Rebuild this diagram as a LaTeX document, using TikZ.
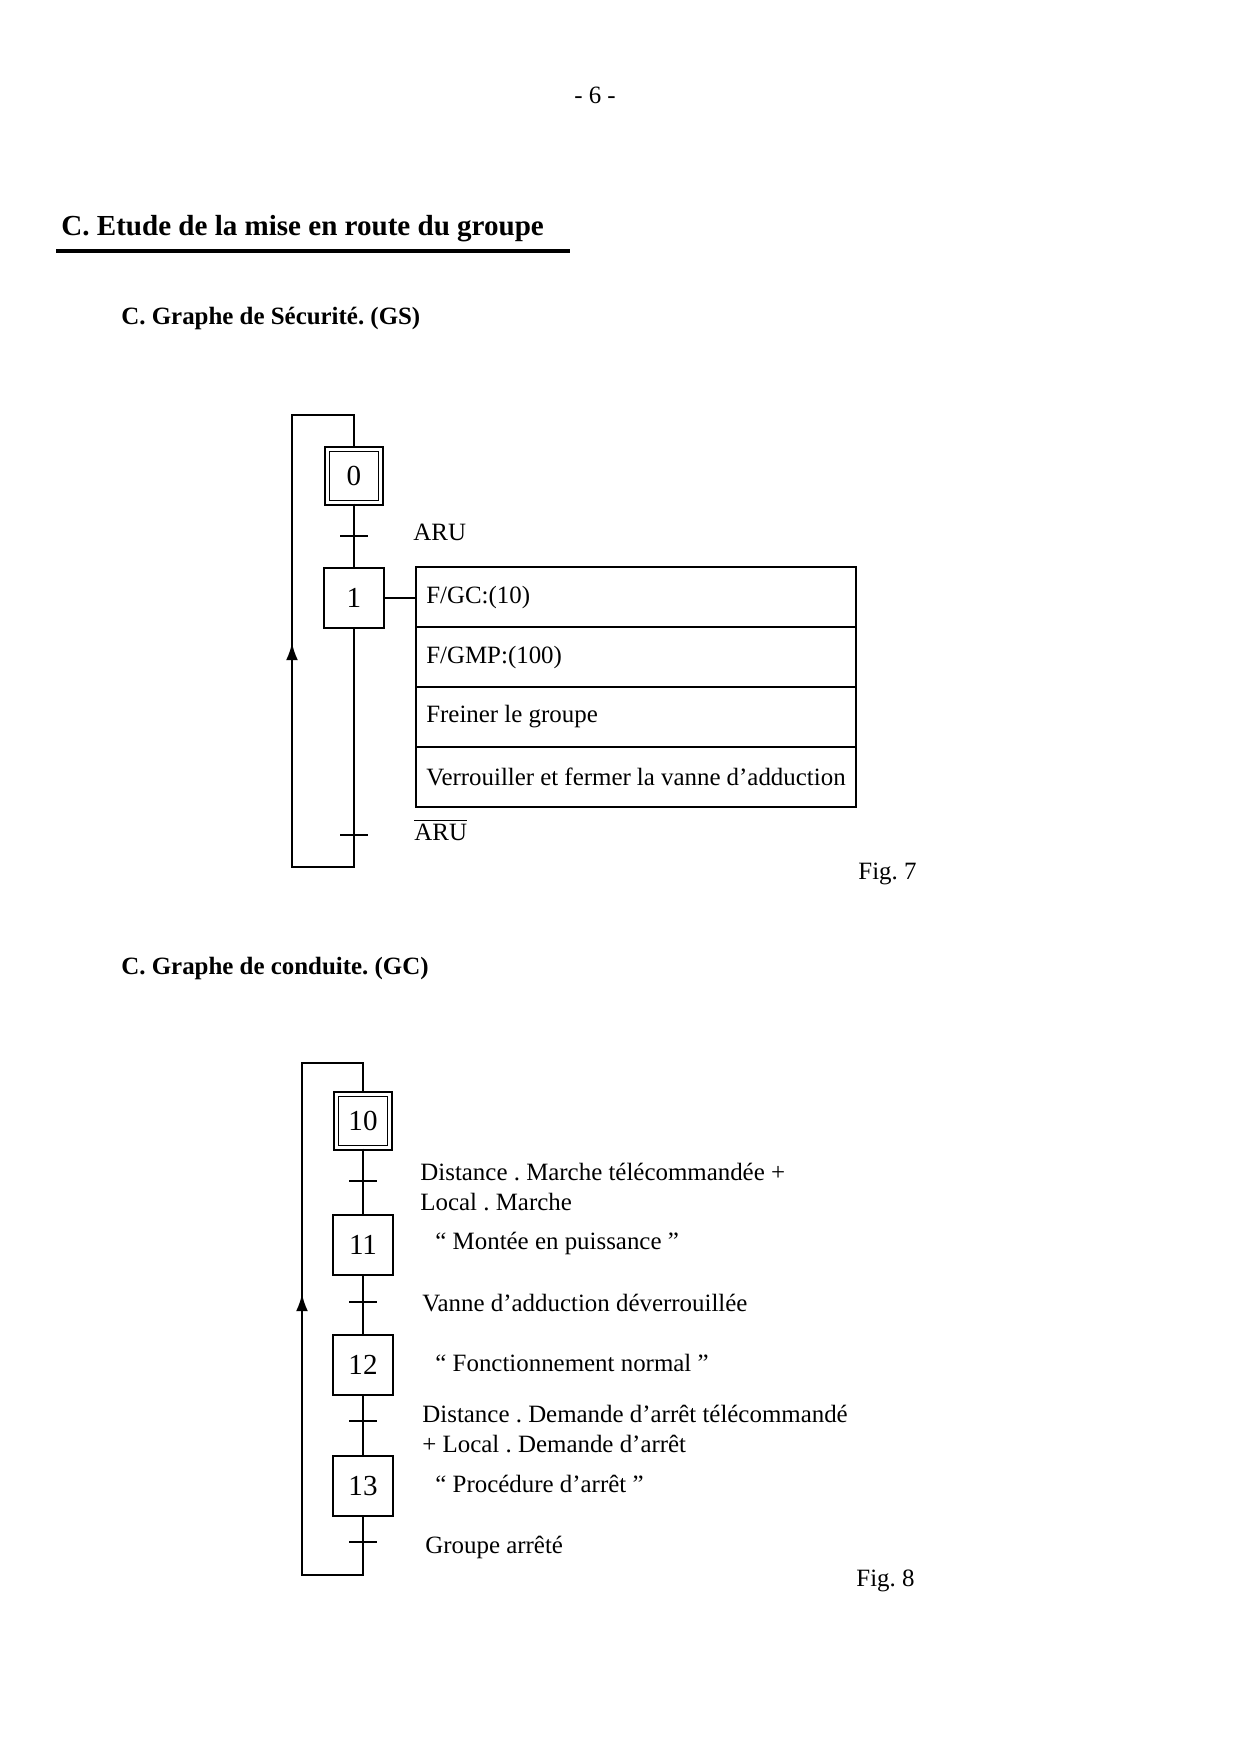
\documentclass[tikz,border=0pt]{standalone}
\usepackage{fontspec}
\setmainfont{Liberation Serif}
\usetikzlibrary{arrows.meta,positioning}
\frenchspacing
\tikzset{
  texte/.style={anchor=west, inner sep=0pt, font=\fontsize{12}{14.5}\selectfont, align=left},
  titre/.style={texte, font=\fontsize{12}{14}\selectfont\bfseries},
  etape/.style={draw, line width=0.8pt, minimum size=10.2mm, inner sep=0pt,
    font=\fontsize{14}{16}\selectfont},
  initiale/.style={etape, double, double distance=1.4pt, minimum size=9.1mm},
  transition/.style={draw, line width=0.8pt, minimum width=4.7mm,
    minimum height=0pt, inner sep=0pt, outer sep=0pt},
  action/.style={draw, line width=0.8pt, text width=71mm, inner xsep=1.75mm,
    minimum height=10.16mm, outer sep=0pt, anchor=north west, align=flush left,
    font=\fontsize{12}{14}\selectfont},
  liaison/.style={line width=0.8pt},
  fleche/.style={liaison, -{Latex[length=2.9mm, width=2mm]}},
}
\begin{document}
\begin{tikzpicture}[x=0.16933mm, y=-0.16933mm]
\useasboundingbox (0,0) rectangle (1236,1752);
% en-tete de page
\node[texte, anchor=center] (page) at (595,95) {- 6 -};
\node[titre, font=\fontsize{14}{16}\selectfont\bfseries] (partie) at (61,229)
  {C. Etude de la mise en route du groupe};
\draw[line width=1.5pt] (56,251) -- (570,251);

% Fig. 7 : graphe de securite
\node[titre] (gs) at (121,318) {C. Graphe de Sécurité. (GS)};
\node[initiale] (e0) at (354,476) {0};
\node[transition] (t1) at (354,536) {};
\node[etape] (e1) at (354,598) {1};
\node[transition] (t2) at (354,835) {};
\node[texte] (r1) at (413,532) {ARU};
\node[texte] (r2) at (414,830) {$\overline{\mbox{ARU}}$};
\node[action] (a1) at (416,567) {F/GC:(10)};
\node[action, below=0pt of a1] (a2) {F/GMP:(100)};
\node[action, below=0pt of a2] (a3) {Freiner le groupe};
\node[action, below=0pt of a3] (a4) {Verrouiller et fermer la vanne d’adduction};
\draw[liaison] (e1.east) -- (e1.east -| a1.west);
\draw[liaison] (e0) -- (t1) -- (e1) -- (t2);
\draw[liaison] (t2.center) -- (354,867) -| (292,415) -| (e0.north);
\draw[fleche] (292,700) -- (292,643);
\node[texte] (fig7) at (858,874) {Fig. 7};

% Fig. 8 : graphe de conduite
\node[titre] (gc) at (121,968) {C. Graphe de conduite. (GC)};
\node[initiale] (e10) at (363,1121) {10};
\node[transition] (t10) at (363,1181) {};
\node[etape] (e11) at (363,1245) {11};
\node[transition] (t11) at (363,1302) {};
\node[etape] (e12) at (363,1365) {12};
\node[transition] (t12) at (363,1421) {};
\node[etape] (e13) at (363,1486) {13};
\node[transition] (t13) at (363,1542) {};
\node[texte] (r10) at (420,1187)
  {Distance . Marche télécommandée +\\Local . Marche};
\node[texte] (x11) at (435,1243) {“ Montée en puissance ”};
\node[texte] (r11) at (422,1303) {Vanne d’adduction déverrouillée};
\node[texte] (x12) at (435,1363) {“ Fonctionnement normal ”};
\node[texte] (r12) at (422,1429)
  {Distance . Demande d’arrêt télécommandé\\+ Local . Demande d’arrêt};
\node[texte] (x13) at (435,1484) {“ Procédure d’arrêt ”};
\node[texte] (r13) at (425,1547) {Groupe arrêté};
\draw[liaison] (e10) -- (t10) -- (e11) -- (t11) -- (e12) -- (t12) -- (e13) -- (t13);
\draw[liaison] (t13.center) -- (363,1575) -| (302,1063) -| (e10.north);
\draw[fleche] (302,1340) -- (302,1294);
\node[texte] (fig8) at (856,1581) {Fig. 8};
\end{tikzpicture}
\end{document}
